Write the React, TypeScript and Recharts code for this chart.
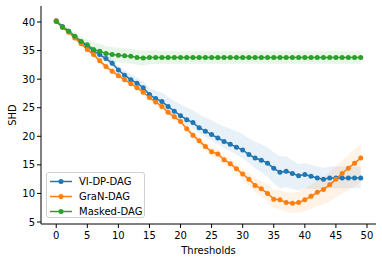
import { ComposedChart, Line, Area, XAxis, YAxis, Label } from 'recharts'

// matplotlib tab10
const COLORS = {
  blue: '#1f77b4',
  orange: '#ff7f0e',
  green: '#2ca02c',
}

const FONT = '"DejaVu Sans", sans-serif'

const thresholds = [
  0, 1, 2, 3, 4, 5, 6, 7, 8, 9, 10, 11, 12, 13, 14, 15, 16, 17, 18, 19, 20, 21, 22, 23, 24,
  25, 26, 27, 28, 29, 30, 31, 32, 33, 34, 35, 36, 37, 38, 39, 40, 41, 42, 43, 44, 45, 46, 47, 48, 49,
]
const xTicks = [0, 5, 10, 15, 20, 25, 30, 35, 40, 45, 50]
const yTicks = [5, 10, 15, 20, 25, 30, 35, 40]

// mean SHD per threshold
const viDpDag = [
  40.2, 39.2, 38.4, 37.4, 36.5, 35.7, 35.0, 34.3, 33.6, 32.8,
  31.6, 30.7, 29.9, 29.3, 28.5, 27.3, 26.6, 26.1, 25.2, 24.4,
  23.6, 22.9, 22.4, 21.5, 20.9, 20.3, 19.7, 19.1, 18.6, 18.1,
  17.6, 16.8, 16.2, 15.8, 15.3, 14.4, 13.7, 13.9, 13.5, 13.1,
  13.3, 13.0, 12.7, 12.5, 12.7, 12.7, 12.7, 12.7, 12.7, 12.7,
]
const granDag = [
  40.2, 39.1, 38.2, 37.2, 36.2, 35.2, 34.3, 33.2, 32.2, 31.4,
  30.6, 29.9, 29.2, 28.5, 27.7, 26.8, 26.0, 25.2, 24.2, 23.4,
  22.6, 21.3, 20.2, 19.2, 18.2, 17.3, 16.9, 15.9, 15.2, 14.3,
  13.4, 12.5, 11.4, 10.8, 10.0, 9.0, 8.9, 8.4, 8.3, 8.4,
  8.9, 9.5, 10.2, 10.7, 11.5, 12.5, 13.5, 14.4, 15.3, 16.2,
]
const maskedDag = [
  40.1, 39.1, 38.4, 37.5, 36.6, 36.0, 35.2, 34.9, 34.5, 34.3,
  34.2, 34.1, 34.0, 33.8, 33.7, 33.8, 33.8, 33.8, 33.8, 33.8,
  33.8, 33.8, 33.8, 33.8, 33.8, 33.8, 33.8, 33.8, 33.8, 33.8,
  33.8, 33.8, 33.8, 33.8, 33.8, 33.8, 33.8, 33.8, 33.8, 33.8,
  33.8, 33.8, 33.8, 33.8, 33.8, 33.8, 33.8, 33.8, 33.8, 33.8,
]

// shaded band: distance above / below the mean
const viUp = [
  0.3, 0.3, 0.4, 0.4, 0.5, 0.5, 0.6, 0.6, 0.7, 0.8,
  0.8, 0.9, 1.0, 1.0, 1.1, 1.2, 1.4, 1.5, 1.7, 1.8,
  2.0, 2.1, 2.2, 2.3, 2.4, 2.5, 2.5, 2.6, 2.7, 2.8,
  2.8, 2.8, 2.8, 2.8, 2.8, 2.8, 2.8, 2.6, 2.3, 2.0,
  2.0, 2.0, 2.0, 2.0, 2.0, 2.0, 2.0, 2.0, 2.0, 2.0,
]
const viDown = [
  0.3, 0.3, 0.4, 0.4, 0.5, 0.5, 0.5, 0.5, 0.6, 0.6,
  0.6, 0.6, 0.7, 0.7, 0.7, 0.8, 0.8, 0.8, 0.9, 0.9,
  0.9, 1.0, 1.0, 1.0, 1.0, 1.1, 1.1, 1.2, 1.2, 1.3,
  1.4, 1.5, 1.8, 2.1, 2.4, 2.6, 2.8, 2.8, 2.7, 2.6,
  2.4, 2.2, 2.0, 1.9, 1.8, 1.8, 1.8, 1.8, 1.8, 1.8,
]
const granUp = [
  0.3, 0.3, 0.3, 0.4, 0.4, 0.4, 0.4, 0.5, 0.5, 0.5,
  0.5, 0.5, 0.5, 0.6, 0.6, 0.6, 0.6, 0.6, 0.6, 0.6,
  0.6, 0.7, 0.7, 0.7, 0.7, 0.8, 0.8, 0.8, 0.9, 0.9,
  1.0, 1.1, 1.2, 1.4, 1.5, 1.7, 1.7, 1.8, 1.8, 1.9,
  2.0, 2.0, 2.1, 2.1, 2.2, 2.3, 2.3, 2.4, 2.4, 2.5,
]
const granDown = [
  0.3, 0.3, 0.3, 0.4, 0.4, 0.4, 0.4, 0.5, 0.5, 0.5,
  0.5, 0.5, 0.5, 0.6, 0.6, 0.6, 0.6, 0.6, 0.6, 0.6,
  0.6, 0.7, 0.7, 0.7, 0.7, 0.8, 0.8, 0.8, 0.9, 0.9,
  1.0, 1.1, 1.2, 1.3, 1.4, 1.6, 1.6, 1.7, 1.7, 1.8,
  2.0, 2.2, 2.4, 2.6, 2.9, 3.2, 3.5, 3.8, 4.1, 4.3,
]
const maskedSpread = [
  0.3, 0.4, 0.5, 0.6, 0.8, 1.0, 1.2, 1.3, 1.3, 1.3,
  1.3, 1.3, 1.3, 1.3, 1.3, 1.2, 1.2, 1.1, 1.1, 1.1,
  1.1, 1.1, 1.1, 1.1, 1.1, 1.1, 1.1, 1.1, 1.1, 1.1,
  1.1, 1.1, 1.1, 1.1, 1.1, 1.1, 1.1, 1.1, 1.1, 1.1,
  1.1, 1.1, 1.1, 1.1, 1.1, 1.1, 1.1, 1.1, 1.1, 1.1,
]

const series = [
  { key: 'vi', name: 'VI-DP-DAG', color: COLORS.blue },
  { key: 'gran', name: 'GraN-DAG', color: COLORS.orange },
  { key: 'masked', name: 'Masked-DAG', color: COLORS.green },
]

const chartData = thresholds.map((t, i) => ({
  t,
  vi: viDpDag[i],
  gran: granDag[i],
  masked: maskedDag[i],
  viBand: [viDpDag[i] - viDown[i], viDpDag[i] + viUp[i]],
  granBand: [granDag[i] - granDown[i], granDag[i] + granUp[i]],
  maskedBand: [maskedDag[i] - maskedSpread[i], maskedDag[i] + maskedSpread[i]],
}))

const tickStyle = { fontSize: 10, fill: '#000', fontFamily: FONT }

function ChartLegend() {
  return (
    <div
      style={{
        position: 'absolute',
        left: 46,
        top: 172,
        width: 99,
        height: 46,
        border: '1px solid #d0d0d0',
        borderRadius: 3,
        background: 'rgba(255,255,255,0.8)',
        fontFamily: FONT,
        fontSize: 10,
        color: '#000',
        boxSizing: 'border-box',
      }}
    >
      {series.map((s, i) => (
        <div
          key={s.key}
          style={{ position: 'absolute', left: 2, top: 2 + i * 15, height: 13, display: 'flex', alignItems: 'center' }}
        >
          <svg width={24} height={13} style={{ marginRight: 6 }}>
            <line x1={1} y1={6.5} x2={23} y2={6.5} stroke={s.color} strokeWidth={1.5} />
            <circle cx={12} cy={6.5} r={2.5} fill={s.color} />
          </svg>
          <span style={{ lineHeight: '13px' }}>{s.name}</span>
        </div>
      ))}
    </div>
  )
}

export default function App() {
  return (
    <div style={{ position: 'absolute', left: 0, top: 0, width: 382, height: 262, background: '#fff' }}>
      <ComposedChart width={382} height={262} data={chartData} margin={{ top: 6, right: 6, left: 0, bottom: 0 }}>
        <XAxis
          dataKey="t"
          type="number"
          domain={[-2.45, 51.45]}
          ticks={xTicks}
          allowDataOverflow
          height={38}
          tick={tickStyle}
          tickSize={4}
          tickMargin={4}
          stroke="#000"
        >
          <Label value="Thresholds" position="insideBottom" offset={8} style={{ fontSize: 10, fill: '#000', fontFamily: FONT }} />
        </XAxis>
        <YAxis
          type="number"
          domain={[4.65, 42.8]}
          ticks={yTicks}
          allowDataOverflow
          width={41}
          tick={tickStyle}
          tickSize={4}
          tickMargin={2}
          stroke="#000"
          label={({ viewBox }: any) => (
            <text
              x={viewBox.x + 12}
              y={viewBox.y + viewBox.height / 2}
              transform={`rotate(-90, ${viewBox.x + 12}, ${viewBox.y + viewBox.height / 2})`}
              textAnchor="middle"
              dominantBaseline="central"
              style={{ fontSize: 10, fill: '#000', fontFamily: FONT }}
            >
              SHD
            </text>
          )}
        />
        {/* top and right spines */}
        <XAxis xAxisId="top" orientation="top" type="number" domain={[0, 1]} height={0} tick={false} tickLine={false} stroke="#000" />
        <YAxis yAxisId="right" orientation="right" type="number" domain={[0, 1]} width={0} tick={false} tickLine={false} stroke="#000" />

        {series.map((s) => (
          <Area
            key={s.key + 'Band'}
            type="linear"
            dataKey={s.key + 'Band'}
            stroke="none"
            fill={s.color}
            fillOpacity={0.1}
            dot={false}
            activeDot={false}
            isAnimationActive={false}
          />
        ))}
        {series.map((s) => (
          <Line
            key={s.key}
            type="linear"
            dataKey={s.key}
            name={s.name}
            stroke={s.color}
            strokeWidth={1.5}
            dot={{ r: 2.5, fill: s.color, stroke: s.color, strokeWidth: 0 }}
            activeDot={false}
            isAnimationActive={false}
          />
        ))}
      </ComposedChart>
      <ChartLegend />
    </div>
  )
}
